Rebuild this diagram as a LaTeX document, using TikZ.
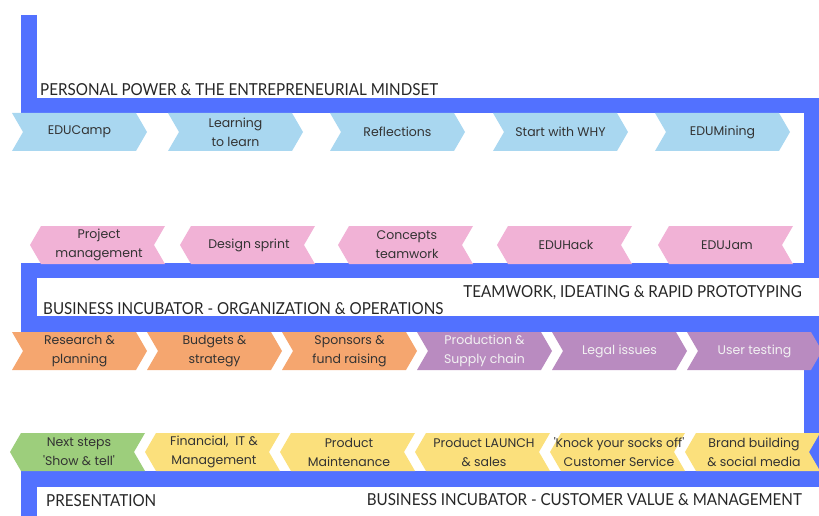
\documentclass[tikz,border=0pt]{standalone}
\usepackage{fontspec}
\setmainfont{Poppins}
\newfontfamily\labfont[FakeStretch=0.92]{Lato}
\definecolor{bandblue}{HTML}{5271FF}
\definecolor{cblue}{HTML}{A9D7F0}
\definecolor{cpink}{HTML}{F1B2D6}
\definecolor{corange}{HTML}{F5A66F}
\definecolor{cpurple}{HTML}{B98BC0}
\definecolor{cyellow}{HTML}{FBE07C}
\definecolor{cgreen}{HTML}{9DCE7C}
\definecolor{tdark}{HTML}{333333}
\definecolor{tlight}{HTML}{F2F2F2}
\tikzset{
  band/.style={draw=bandblue,line width=15.5pt,line join=miter},
  chtext/.style={align=center,inner sep=0pt,font=\fontsize{12.5}{19}\selectfont},
  bandlabel/.style={inner sep=0pt,text=black!85,font=\labfont\fontsize{16.5}{18}\selectfont},
}
\newcommand\chevR[6]{%
  \fill[#4] (#2,#3) -- ++(124,0) -- ++(11,19) -- ++(-11,19) -- ++(-124,0) -- ++(11,-19) -- cycle;
  \node[chtext,text=#5] (#1) at ({#2+67.5},{#3+19}) {#6};}
\newcommand\chevL[6]{%
  \fill[#4] (#2,{#3+19}) -- ++(11,-19) -- ++(124,0) -- ++(-11,19) -- ++(11,19) -- ++(-124,0) -- cycle;
  \node[chtext,text=#5] (#1) at ({#2+69},{#3+19}) {#6};}
\begin{document}
\begin{tikzpicture}[x=1pt,y=-1pt]
\useasboundingbox (0,0) rectangle (819,516);
% snake band
\draw[band] (29,15) -- (29,105.5) -- (812,105.5) -- (812,270.5) -- (29,270.5)
  -- (29,324) -- (812,324) -- (812,479) -- (29,479) -- (29,530);
% labels
\node[bandlabel,anchor=base west] (l1) at (40,96) {PERSONAL POWER \& THE ENTREPRENEURIAL MINDSET};
\node[bandlabel,anchor=base east] (l2) at (802,297) {TEAMWORK, IDEATING \& RAPID PROTOTYPING};
\node[bandlabel,anchor=base west] (l3) at (43,314) {BUSINESS INCUBATOR - ORGANIZATION \& OPERATIONS};
\node[bandlabel,anchor=base west] (l4) at (46,506) {PRESENTATION};
\node[bandlabel,anchor=base east] (l5) at (802,505) {BUSINESS INCUBATOR - CUSTOMER VALUE \& MANAGEMENT};
% row 1
\chevR{a1}{12}{113}{cblue}{tdark}{EDUCamp}
\chevR{a2}{168}{113}{cblue}{tdark}{Learning\\to learn}
\chevR{a3}{330}{113}{cblue}{tdark}{Reflections}
\chevR{a4}{493}{113}{cblue}{tdark}{Start with WHY}
\chevR{a5}{655}{113}{cblue}{tdark}{EDUMining}
% row 2
\chevL{b1}{30}{226}{cpink}{tdark}{Project\\management}
\chevL{b2}{180}{226}{cpink}{tdark}{Design sprint}
\chevL{b3}{338}{226}{cpink}{tdark}{Concepts\\teamwork}
\chevL{b4}{497}{226}{cpink}{tdark}{EDUHack}
\chevL{b5}{658}{226}{cpink}{tdark}{EDUJam}
% row 3
\chevR{c1}{12}{332}{corange}{tdark}{Research \&\\planning}
\chevR{c2}{147}{332}{corange}{tdark}{Budgets \&\\strategy}
\chevR{c3}{282}{332}{corange}{tdark}{Sponsors \&\\fund raising}
\chevR{c4}{417}{332}{cpurple}{tlight}{Production \&\\Supply chain}
\chevR{c5}{552}{332}{cpurple}{tlight}{Legal issues}
\chevR{c6}{687}{332}{cpurple}{tlight}{User testing}
% row 4
\chevL{d1}{10}{433}{cgreen}{tdark}{Next steps\\\textquotesingle Show \& tell\textquotesingle}
\chevL{d2}{145}{433}{cyellow}{tdark}{Financial, \ IT \&\\Management}
\chevL{d3}{280}{433}{cyellow}{tdark}{Product\\Maintenance}
\chevL{d4}{415}{433}{cyellow}{tdark}{Product LAUNCH\\\& sales}
\chevL{d5}{550}{433}{cyellow}{tdark}{\textquotesingle Knock your socks off\textquotesingle\\Customer Service}
\chevL{d6}{685}{433}{cyellow}{tdark}{Brand building\\\& social media}
\end{tikzpicture}
\end{document}
